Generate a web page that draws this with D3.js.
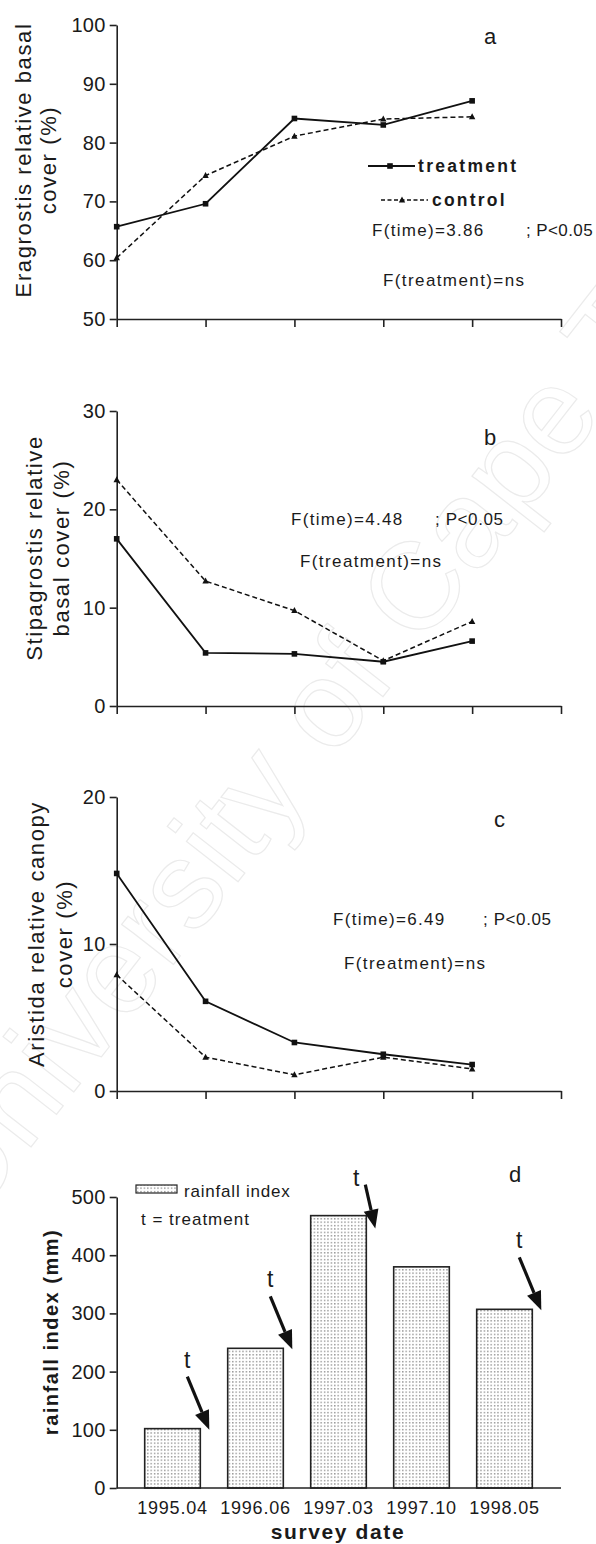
<!DOCTYPE html>
<html>
<head>
<meta charset="utf-8">
<script src="https://cdn.jsdelivr.net/npm/d3@7"></script>
<style>
  body { margin: 0; background: #fff; }
  text { font-family: "Liberation Sans", Arial, sans-serif; fill: #1a1a1a; }
</style>
</head>
<body>
<script>
// survey dates (x categories)
var dates = ["1995.04", "1996.06", "1997.03", "1997.10", "1998.05"];

// a: Eragrostis relative basal cover (%)
var eraTreat = [65.7, 69.6, 84.1, 83.0, 87.1];
var eraCtrl = [60.4, 74.4, 81.1, 84.0, 84.4];
// b: Stipagrostis relative basal cover (%)
var stipTreat = [17.0, 5.4, 5.3, 4.5, 6.6];
var stipCtrl = [23.0, 12.7, 9.7, 4.6, 8.6];
// c: Aristida relative canopy cover (%)
var ariTreat = [14.8, 6.1, 3.3, 2.5, 1.8];
var ariCtrl = [7.9, 2.3, 1.1, 2.3, 1.5];
// d: rainfall index (mm)
var rainfall = [102, 240, 468, 380, 307];
var treatmentDates = ["1995.04", "1996.06", "1997.03", "1998.05"];

var ticksA = [50, 60, 70, 80, 90, 100];
var ticksB = [0, 10, 20, 30];
var ticksC = [0, 10, 20];
var ticksD = [0, 100, 200, 300, 400, 500];

var W = 596, H = 1544;
var x0 = 116.7, x1 = 561;

var svg = d3.select("body").append("svg")
    .attr("width", W)
    .attr("height", H);

svg.append("rect").attr("width", W).attr("height", H).attr("fill", "#fff");

// faint watermark
svg.append("text")
    .attr("transform", "translate(-30,1225) rotate(-52)")
    .attr("font-size", 124)
    .style("fill", "none")
    .style("stroke", "#ebebeb")
    .style("stroke-width", 1.2)
    .style("letter-spacing", "1px")
    .text("University of Cape Town");

var defs = svg.append("defs");
var pat = defs.append("pattern")
    .attr("id", "dots")
    .attr("patternUnits", "userSpaceOnUse")
    .attr("width", 3.4)
    .attr("height", 3.4);
pat.append("rect").attr("width", 3.4).attr("height", 3.4).attr("fill", "#fff");
pat.append("rect").attr("x", 1).attr("y", 1).attr("width", 1.2).attr("height", 1.2).attr("fill", "#6a6a6a");

function styleAxis(g) {
    g.selectAll("path, line").attr("stroke", "#222").attr("stroke-width", 1.6);
    g.selectAll("text")
        .style("font-size", "20px")
        .style("letter-spacing", "0.3px")
        .attr("fill", "#222");
}

function yTitle(lines, xs, yc, bold) {
    lines.forEach(function (s, i) {
        svg.append("text")
            .attr("transform", "translate(" + xs[i] + "," + yc + ") rotate(-90)")
            .attr("text-anchor", "middle")
            .style("font-size", bold ? "20px" : "22px")
            .style("font-weight", bold ? "bold" : "normal")
            .style("letter-spacing", bold ? "1.5px" : "1.6px")
            .text(s);
    });
}

function label(txt, x, y, size, ls, weight) {
    return svg.append("text")
        .attr("x", x).attr("y", y)
        .style("font-size", size + "px")
        .style("letter-spacing", ls + "px")
        .style("font-weight", weight || "normal")
        .text(txt);
}

function square(g, cx, cy) {
    g.append("rect").attr("x", cx - 2.8).attr("y", cy - 2.8)
        .attr("width", 5.6).attr("height", 5.6).attr("fill", "#111");
}
function triangle(g, cx, cy) {
    g.append("path")
        .attr("d", "M" + cx + "," + (cy - 3.5) + "L" + (cx + 3.2) + "," + (cy + 2.5) + "L" + (cx - 3.2) + "," + (cy + 2.5) + "Z")
        .attr("fill", "#111");
}

function linePanel(treat, ctrl, domain, ticks, yr) {
    var x = d3.scaleLinear().domain([0, 5]).range([x0, x1]);
    var y = d3.scaleLinear().domain(domain).range(yr);

    var xa = svg.append("g")
        .attr("transform", "translate(0," + yr[0] + ")")
        .call(d3.axisBottom(x).tickValues([0, 1, 2, 3, 4, 5]).tickSize(8).tickSizeOuter(0).tickFormat(""));
    styleAxis(xa);

    var ya = svg.append("g")
        .attr("transform", "translate(" + x0 + ",0)")
        .call(d3.axisLeft(y).tickValues(ticks).tickSize(7).tickPadding(4).tickSizeOuter(0));
    styleAxis(ya);

    var line = d3.line()
        .x(function (d, i) { return x(i); })
        .y(function (d) { return y(d); });

    svg.append("path").datum(ctrl).attr("d", line)
        .attr("fill", "none").attr("stroke", "#111")
        .attr("stroke-width", 1.5).attr("stroke-dasharray", "5,3");
    svg.append("path").datum(treat).attr("d", line)
        .attr("fill", "none").attr("stroke", "#111").attr("stroke-width", 1.8);

    var mk = svg.append("g");
    ctrl.forEach(function (d, i) { triangle(mk, x(i), y(d)); });
    treat.forEach(function (d, i) { square(mk, x(i), y(d)); });
}

// ---- panel a
linePanel(eraTreat, eraCtrl, [50, 100], ticksA, [319, 25]);
yTitle(["Eragrostis relative basal", "cover (%)"], [31, 56], 160, false);
label("a", 484, 44, 22, 0);
var lg = svg.append("g");
lg.append("line").attr("x1", 368).attr("x2", 415).attr("y1", 166).attr("y2", 166)
    .attr("stroke", "#111").attr("stroke-width", 1.8);
square(lg, 390, 166);
lg.append("line").attr("x1", 381).attr("x2", 428).attr("y1", 200).attr("y2", 200)
    .attr("stroke", "#111").attr("stroke-width", 1.4).attr("stroke-dasharray", "4,2.5");
triangle(lg, 402, 200);
label("treatment", 418, 172, 17.5, 2.3, "bold");
label("control", 432, 206, 17.5, 2.2, "bold");
label("F(time)=3.86", 372, 236, 17, 1.3);
label("; P<0.05", 526, 236, 17, 0.4);
label("F(treatment)=ns", 383, 286, 17, 1.4);

// ---- panel b
linePanel(stipTreat, stipCtrl, [0, 30], ticksB, [706, 411]);
yTitle(["Stipagrostis relative", "basal cover (%)"], [42, 69], 548, false);
label("b", 484, 445, 22, 0);
label("F(time)=4.48", 291, 525, 17, 1.3);
label("; P<0.05", 435, 525, 17, 0.6);
label("F(treatment)=ns", 300, 567, 17, 1.4);

// ---- panel c
linePanel(ariTreat, ariCtrl, [0, 20], ticksC, [1091, 797]);
yTitle(["Aristida relative canopy", "cover (%)"], [44, 72], 934, false);
label("c", 494, 827, 22, 0);
label("F(time)=6.49", 333, 925, 17, 1.3);
label("; P<0.05", 483, 925, 17, 0.6);
label("F(treatment)=ns", 344, 969, 17, 1.4);

// ---- panel d
var xb = d3.scaleBand().domain(dates).range([131, 546]).paddingInner(0.33).paddingOuter(0.165);
var yb = d3.scaleLinear().domain([0, 500]).range([1488, 1197]);

svg.selectAll(".bar")
    .data(rainfall)
    .enter()
    .append("rect")
    .attr("class", "bar")
    .attr("x", function (d, i) { return xb(dates[i]); })
    .attr("y", function (d) { return yb(d); })
    .attr("width", xb.bandwidth())
    .attr("height", function (d) { return yb(0) - yb(d); })
    .attr("fill", "url(#dots)")
    .attr("stroke", "#222")
    .attr("stroke-width", 1.6);

var xda = svg.append("g")
    .attr("transform", "translate(0,1488)")
    .call(d3.axisBottom(xb).tickSize(0).tickPadding(13).tickSizeOuter(0));
xda.select(".domain").attr("d", "M" + x0 + ",0H" + x1);
styleAxis(xda);
xda.selectAll("text").style("font-size", "18px").style("letter-spacing", "0.8px");

var yda = svg.append("g")
    .attr("transform", "translate(" + x0 + ",0)")
    .call(d3.axisLeft(yb).tickValues(ticksD).tickSize(7).tickPadding(4).tickSizeOuter(0));
styleAxis(yda);

yTitle(["rainfall index (mm)"], [58], 1332, true);
label("d", 509, 1182, 22, 0);

svg.append("text")
    .attr("x", 338).attr("y", 1539)
    .attr("text-anchor", "middle")
    .style("font-size", "21px")
    .style("font-weight", "bold")
    .style("letter-spacing", "1.6px")
    .text("survey date");

// legend d
svg.append("rect").attr("x", 136).attr("y", 1185).attr("width", 41).attr("height", 8)
    .attr("fill", "url(#dots)").attr("stroke", "#222").attr("stroke-width", 1.2);
label("rainfall index", 184, 1197, 17, 0.8);
label("t = treatment", 141, 1225, 17, 1);

// treatment arrows
treatmentDates.forEach(function (dt) {
    var i = dates.indexOf(dt);
    var v = rainfall[i];
    var high = v > 450;
    var tipX = xb(dt) + xb.bandwidth() + 9;
    var tipY = yb(v) + (high ? 13 : 1);
    var dx = high ? 10 : 22;
    var dy = high ? 44 : 53;
    var tx = tipX - dx, ty = tipY - dy;
    var len = Math.sqrt(dx * dx + dy * dy);
    var ux = dx / len, uy = dy / len;
    var hl = 19, hw = 7.5;
    var bx = tipX - ux * hl, by = tipY - uy * hl;
    svg.append("line")
        .attr("x1", tx).attr("y1", ty).attr("x2", bx).attr("y2", by)
        .attr("stroke", "#111").attr("stroke-width", 3.2);
    svg.append("path")
        .attr("d", "M" + tipX + "," + tipY +
            "L" + (bx - uy * hw) + "," + (by + ux * hw) +
            "L" + (bx + uy * hw) + "," + (by - ux * hw) + "Z")
        .attr("fill", "#111");
    svg.append("text")
        .attr("x", high ? tx - 9 : tx).attr("y", high ? ty + 1 : ty - 9)
        .attr("text-anchor", "middle")
        .style("font-size", "23px")
        .text("t");
});
</script>
</body>
</html>
